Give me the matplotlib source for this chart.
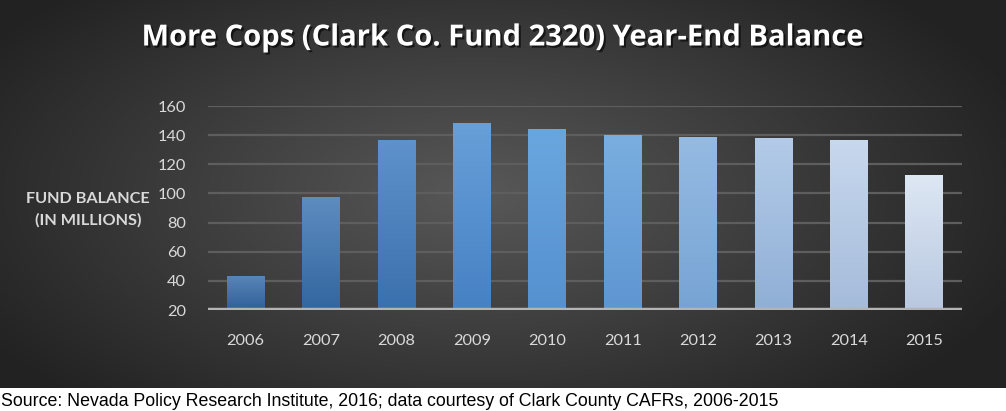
import numpy as np
import matplotlib
matplotlib.use("Agg")
import matplotlib.pyplot as plt
import matplotlib.patheffects as pe
from matplotlib import font_manager

years = ["2006", "2007", "2008", "2009", "2010", "2011", "2012", "2013", "2014", "2015"]
balance = [43.5, 97.5, 137, 148, 144, 140, 139, 138, 136.5, 112.5]
y_ticks = [20, 40, 60, 80, 100, 120, 140, 160]

# per-bar colours (top, bottom) - dark blue -> mid blue -> pale
bar_top = ["#5a86b8", "#5d8cc0", "#5f92cc", "#679fd8", "#6aa6de",
           "#7aaee0", "#95bbe2", "#b3cbe8", "#c8d8ee", "#dde7f4"]
bar_bot = ["#30609a", "#33669f", "#3a70ad", "#4681c4", "#5590d0",
           "#5e96d2", "#77a3d4", "#90afd6", "#a4bbda", "#b8c8e0"]

names = {f.name for f in font_manager.fontManager.ttflist}
ui_font = "Lato" if "Lato" in names else "DejaVu Sans"
title_font = "Open Sans" if "Open Sans" in names else ui_font
src_font = "Liberation Sans Narrow" if "Liberation Sans Narrow" in names else "Liberation Sans"

W, H = 1006, 411
fig = plt.figure(figsize=(W / 100, H / 100), dpi=100, facecolor="white")

# dark panel with radial gradient
bg = fig.add_axes([0, 23 / H, 1, 388 / H])
bg.set_axis_off()
gx, gy = np.meshgrid(np.linspace(-1, 1, 400), np.linspace(-1, 1, 200))
r = np.sqrt(((gx + 0.05) * 0.95) ** 2 + (gy * 0.75) ** 2)
r = np.clip(r / 1.1, 0, 1)
c0 = np.array([0x58, 0x58, 0x58]) / 255
c1 = np.array([0x22, 0x22, 0x22]) / 255
img = c0[None, None, :] * (1 - r[..., None]) + c1[None, None, :] * r[..., None]
bg.imshow(img, aspect="auto", extent=[0, 1, 0, 1], interpolation="bilinear")
bg.set_xlim(0, 1)
bg.set_ylim(0, 1)

ax = fig.add_axes([208 / W, (H - 310) / H, 754 / W, 204 / H])
ax.patch.set_alpha(0)
x = np.arange(len(years))
ax.set_xlim(-0.5, len(years) - 0.5)
ax.set_ylim(20, 160)

for yt in y_ticks[1:]:
    ax.axhline(yt, color="#5e5e5e", lw=1.6, zorder=1)

bars = ax.bar(x, [b - 20 for b in balance], bottom=20, width=0.5,
              color=bar_bot, zorder=3,
              path_effects=[pe.SimplePatchShadow(offset=(0, 0), shadow_rgbFace="black", alpha=0.35),
                            pe.Normal()])
for i, b in enumerate(bars):
    top = matplotlib.colors.to_rgb(bar_top[i])
    bot = matplotlib.colors.to_rgb(bar_bot[i])
    t = np.linspace(0, 1, 100)[:, None]
    grad = np.array(bot)[None, :] * (1 - t) + np.array(top)[None, :] * t
    grad = grad[:, None, :]
    im = ax.imshow(grad, extent=[x[i] - 0.25, x[i] + 0.25, 20, balance[i]],
                   origin="lower", aspect="auto", zorder=4, interpolation="bilinear")
    im.set_clip_path(b)

ax.axhline(20, color="#b4b4b4", lw=3.2, zorder=5)

for s in ax.spines.values():
    s.set_visible(False)
ax.set_xticks(x)
ax.set_xticklabels(years)
ax.set_yticks(y_ticks)
ax.tick_params(length=0, colors="#d9d9d9", labelsize=11.8)
ax.tick_params(axis="y", pad=16)
ax.tick_params(axis="x", pad=17)
for lab in ax.get_xticklabels() + ax.get_yticklabels():
    lab.set_fontfamily(ui_font)

fig.text(88 / W, 1 - 210 / H, "FUND BALANCE\n(IN MILLIONS)", ha="center", va="center",
         color="#d9d9d9", fontsize=11.7, fontweight="bold", family=ui_font, linespacing=1.6)

fig.text(502 / W, 1 - 38 / H, "More Cops (Clark Co. Fund 2320) Year-End Balance",
         ha="center", va="center", color="white", fontsize=21, fontweight="bold",
         family=title_font,
         path_effects=[pe.withSimplePatchShadow(offset=(1.5, -1.5), shadow_rgbFace="black", alpha=0.6)])

fig.text(1 / W, 1 - 401 / H,
         "Source: Nevada Policy Research Institute, 2016; data courtesy of Clark County CAFRs, 2006-2015",
         ha="left", va="center", color="black", fontsize=12.8, family=src_font)

fig.savefig("out.png", dpi=100, facecolor="white")
